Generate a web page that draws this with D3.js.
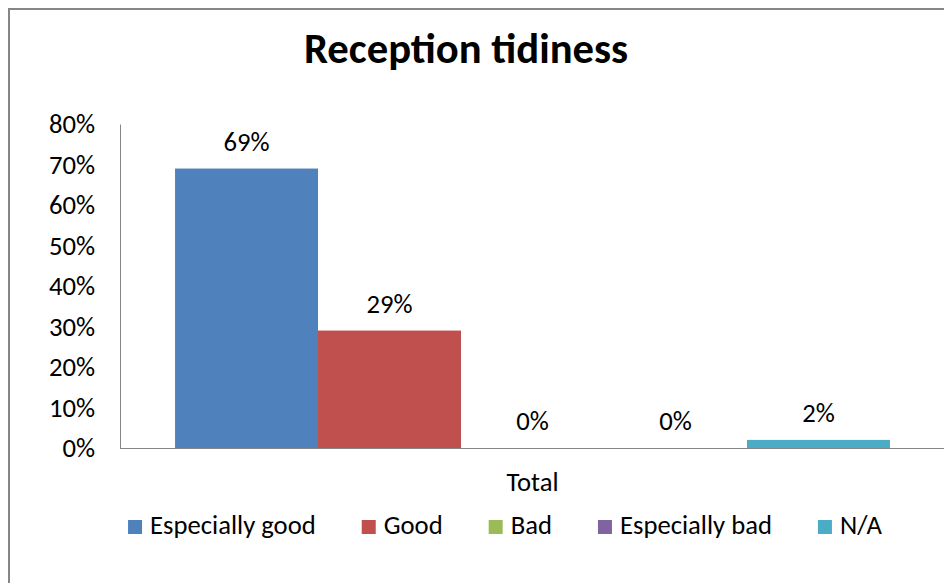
<!DOCTYPE html>
<html>
<head>
<meta charset="utf-8">
<script src="https://cdn.jsdelivr.net/npm/d3@7"></script>
<style>
  html, body { margin: 0; padding: 0; background: #fff; }
  svg { display: block; }
  text { font-family: Carlito, Calibri, "Open Sans", sans-serif; fill: #000; }
</style>
</head>
<body>
<svg id="chart" width="944" height="583"></svg>
<script>
// Survey answers for one question, shown as a share of all responses
const title = "Reception tidiness";
const groupLabel = "Total";
const categories = ["Especially good", "Good", "Bad", "Especially bad", "N/A"];
const values = [0.69, 0.29, 0.00, 0.00, 0.02];
const colors = ["#4f81bd", "#c0504d", "#9bbb59", "#8064a2", "#4bacc6"];
const yTicks = [0, 0.1, 0.2, 0.3, 0.4, 0.5, 0.6, 0.7, 0.8];

const FONT = "Carlito, Calibri, 'Open Sans', sans-serif";
const LABEL_SIZE = 26.67;
const svg = d3.select("#chart");
const W = 944, H = 583;

// Chart frame
svg.append("rect")
  .attr("x", 9).attr("y", 9)
  .attr("width", W + 20).attr("height", H + 20)
  .attr("fill", "#fff")
  .attr("stroke", "#868686")
  .attr("stroke-width", 2);

// Title
svg.append("text")
  .attr("x", 466).attr("y", 63)
  .attr("text-anchor", "middle")
  .attr("font-size", 42.67)
  .attr("font-weight", "bold")
  .text(title);

// Plot area
const plot = { left: 120, right: 945, top: 124, bottom: 448 };

const y = d3.scaleLinear().domain([0, 0.8]).range([plot.bottom, plot.top]);
const group = d3.scaleBand().domain([groupLabel]).range([plot.left, plot.right]).paddingInner(0).paddingOuter(0.077);
const x = d3.scaleBand().domain(categories).range([group(groupLabel), group(groupLabel) + group.bandwidth()]).padding(0);

// Y axis
const yAxis = d3.axisLeft(y)
  .tickValues(yTicks)
  .tickFormat(d3.format(".0%"))
  .tickSize(0)
  .tickPadding(25);
const gy = svg.append("g").attr("transform", `translate(${plot.left},0)`).call(yAxis);
gy.select(".domain").attr("stroke", "#868686").attr("stroke-width", 1);
gy.selectAll(".tick text")
  .attr("font-size", LABEL_SIZE)
  .attr("font-family", FONT)
  .attr("fill", "#000");

// Bars
svg.append("g").selectAll("rect")
  .data(categories)
  .join("rect")
  .attr("x", d => x(d))
  .attr("width", x.bandwidth())
  .attr("y", (d, i) => y(values[i]))
  .attr("height", (d, i) => plot.bottom - y(values[i]))
  .attr("fill", (d, i) => colors[i]);

// X axis baseline
svg.append("line")
  .attr("x1", plot.left).attr("x2", plot.right)
  .attr("y1", plot.bottom + 0.5).attr("y2", plot.bottom + 0.5)
  .attr("stroke", "#868686").attr("stroke-width", 1);

// Value labels
svg.append("g").selectAll("text")
  .data(categories)
  .join("text")
  .attr("x", d => x(d) + x.bandwidth() / 2)
  .attr("y", (d, i) => y(values[i]) - 18)
  .attr("text-anchor", "middle")
  .attr("font-size", LABEL_SIZE)
  .text((d, i) => d3.format(".0%")(values[i]));

// Category label
svg.append("text")
  .attr("x", group(groupLabel) + group.bandwidth() / 2)
  .attr("y", 491)
  .attr("text-anchor", "middle")
  .attr("font-size", LABEL_SIZE)
  .text(groupLabel);

// Legend
const legend = svg.append("g");
const items = legend.selectAll("g").data(categories).join("g");
items.append("rect")
  .attr("width", 14).attr("height", 14)
  .attr("y", 520)
  .attr("fill", (d, i) => colors[i]);
items.append("text")
  .attr("x", 22).attr("y", 534)
  .attr("font-size", LABEL_SIZE)
  .text(d => d);
const gap = 46;
let cursor = 0;
const offsets = [];
items.each(function () {
  offsets.push(cursor);
  const w = d3.select(this).select("text").node().getComputedTextLength();
  cursor += 22 + w + gap;
});
const total = cursor - gap;
const start = 505 - total / 2;
items.attr("transform", (d, i) => `translate(${start + offsets[i]},0)`);
</script>
</body>
</html>
